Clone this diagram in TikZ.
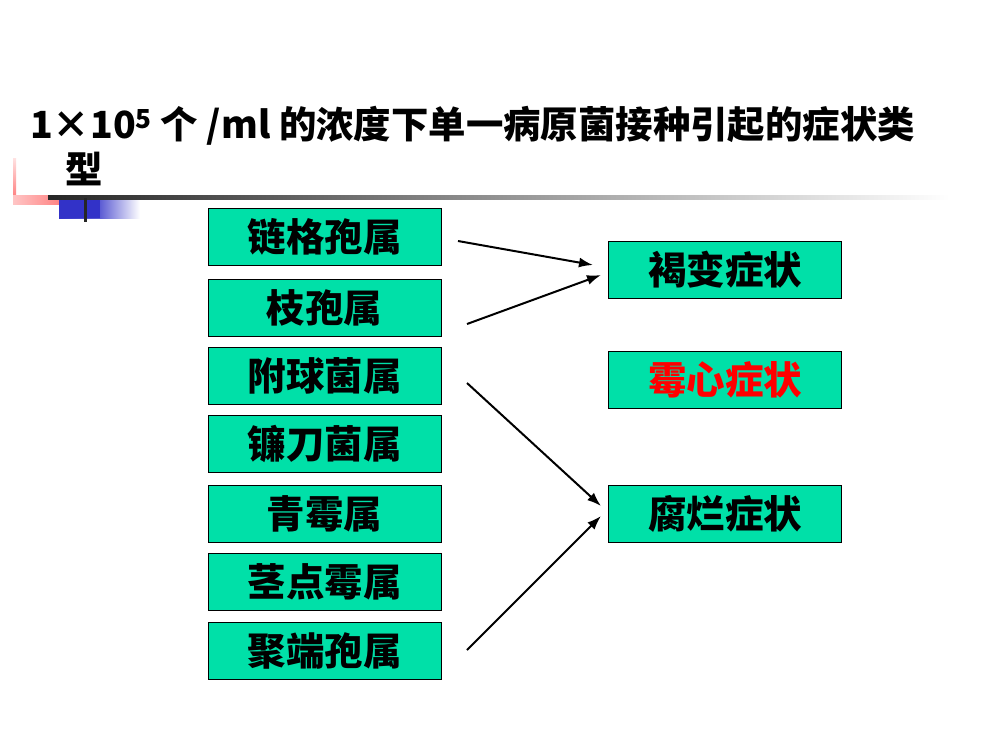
\documentclass[tikz,border=0pt]{standalone}
\usepackage{fontspec}
\setmainfont{Noto Sans CJK SC}
\usepackage{xcolor}
\usepackage{tikz}
\usetikzlibrary{positioning}
\usetikzlibrary{arrows.meta,shapes}
\usetikzlibrary{shadings}
\usetikzlibrary{calc}
\definecolor{boxgreen}{RGB}{0,224,168}
\definecolor{barpink}{RGB}{255,110,110}
\definecolor{barblue}{RGB}{50,50,200}
\tikzstyle{genus}=[rectangle,draw=black,fill=boxgreen,minimum width=233pt,minimum height=57pt,inner sep=0pt,font=\fontsize{38.5}{40}\selectfont\bfseries]
\tikzstyle{symptom}=[genus]
\tikzstyle{edge} = [draw,line width=2pt,-{Latex[length=14pt,width=10pt]}]
\tikzset{ttl/.style={anchor=base west,inner sep=0pt,font=\fontsize{37.4}{40}\selectfont\bfseries}}

\begin{document}
\begin{tikzpicture}[x=1pt,y=-1pt]

  \useasboundingbox (0,0) rectangle (1000,750);

%title
  \node[ttl] (title1) at (30,138) {1×10\textsuperscript{5} 个 /ml 的浓度下单一病原菌接种引起的症状类};
  \node[ttl] (title2) at (65,183) {型};

%bar
  \shade[top color=barpink!20, bottom color=barpink] (13,158) rectangle (16,204);
  \shade[left color=barpink!40, right color=barpink] (13,195) rectangle (75,204);
  \shade[left color=barblue, right color=white, middle color=barblue!80] (59,198) rectangle (140,218);
  \fill[barblue] (59,198) rectangle (100,218);
  \shade[left color=black!85, right color=white] (48,195) rectangle (950,199);
  \fill[black!85] (84,198) rectangle (87,222);

%genera
  \foreach \y/\name/\label in {236.5/g1/链格孢属, 307.5/g2/枝孢属, 375.5/g3/附球菌属, 443.5/g4/镰刀菌属, 513.5/g5/青霉属, 581.5/g6/茎点霉属, 650.5/g7/聚端孢属}
          \node[genus] (\name) at (324.5,\y) {\label};

%symptoms
  \foreach \y/\name/\label/\col in {269.5/s1/褐变症状/black, 379.5/s2/霉心症状/red, 513.5/s3/腐烂症状/black}
          \node[symptom,text=\col] (\name) at (725,\y) {\label};

  \foreach \name/\x/\y in {a1/458/241, b1/593/265, a2/467/324, b2/601/275, a3/467/383, b3/601/506, a7/467/650, b7/601/516}
          \coordinate (\name) at (\x,\y);

  \foreach \source/ \dest in {a1/b1, a2/b2, a3/b3, a7/b7}
         \path[edge] (\source) -- (\dest);

\end{tikzpicture}
\end{document}
